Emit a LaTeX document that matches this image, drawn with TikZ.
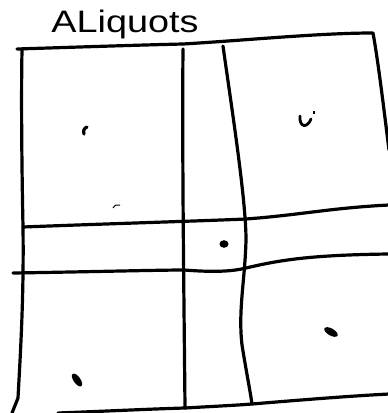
\documentclass[tikz,border=0pt]{standalone}
\usepackage{fontspec}
\setmainfont{Liberation Sans}
\begin{document}
\begin{tikzpicture}[x=1pt,y=-1pt,
  pen/.style={line width=3.2pt, line cap=round, line join=round},
  blob/.style={fill=black},
  title/.style={font=\fontsize{31}{36}\selectfont, inner sep=0pt, xscale=1.22}]
\useasboundingbox (0,0) rectangle (388,413);
% title
\node[title] (ttl) at (125,24) {ALiquots};
% outer frame top and right
\draw[pen] (17,49) .. controls (80,47) and (140,45) .. (183,44)
  .. controls (250,40) and (320,33) .. (373,33)
  .. controls (378,60) and (384,110) .. (389,150);
% left side
\draw[pen] (22,50) .. controls (21,100) and (22,180) .. (23,227)
  .. controls (24,300) and (20,360) .. (18,398) -- (12,413);
% bottom
\draw[pen] (58,413) .. controls (110,411) and (150,409) .. (185,408)
  .. controls (220,406) and (240,405) .. (252,404)
  .. controls (300,400) and (350,396) .. (389,394);
% vertical lines
\draw[pen] (183,49) .. controls (182,150) and (184,300) .. (185,408);
\draw[pen] (223,46) .. controls (232,110) and (246,200) .. (246,240)
  .. controls (245,280) and (238,310) .. (242,345)
  .. controls (246,370) and (250,390) .. (252,404);
% horizontal lines
\draw[pen] (23,227) .. controls (100,224) and (200,221) .. (246,219)
  .. controls (300,215) and (330,208) .. (389,205);
\draw[pen] (13,273) .. controls (80,272) and (160,270) .. (184,270)
  .. controls (210,272) and (230,272) .. (246,268)
  .. controls (280,260) and (310,255) .. (389,254);
% marks
\draw[line width=3.2pt, line cap=round] (87,127) .. controls (84,128) and (83,131) .. (84,134);
\draw[line width=2.8pt, line cap=round] (300,116) .. controls (299,127) and (307,129) .. (311,119);
\draw[line width=1.2pt] (314,111) -- (314,114);
\fill[blob] (224,244) ellipse (4.5pt and 3.8pt);
\fill[blob, rotate around={-55:(77,380)}] (77,380) ellipse (7.5pt and 3.4pt);
\fill[blob, rotate around={-30:(331,332)}] (331,332) ellipse (7.5pt and 3.5pt);
\draw[line width=1pt] (113,208) .. controls (115,205) and (117,204) .. (120,205);
\end{tikzpicture}
\end{document}
